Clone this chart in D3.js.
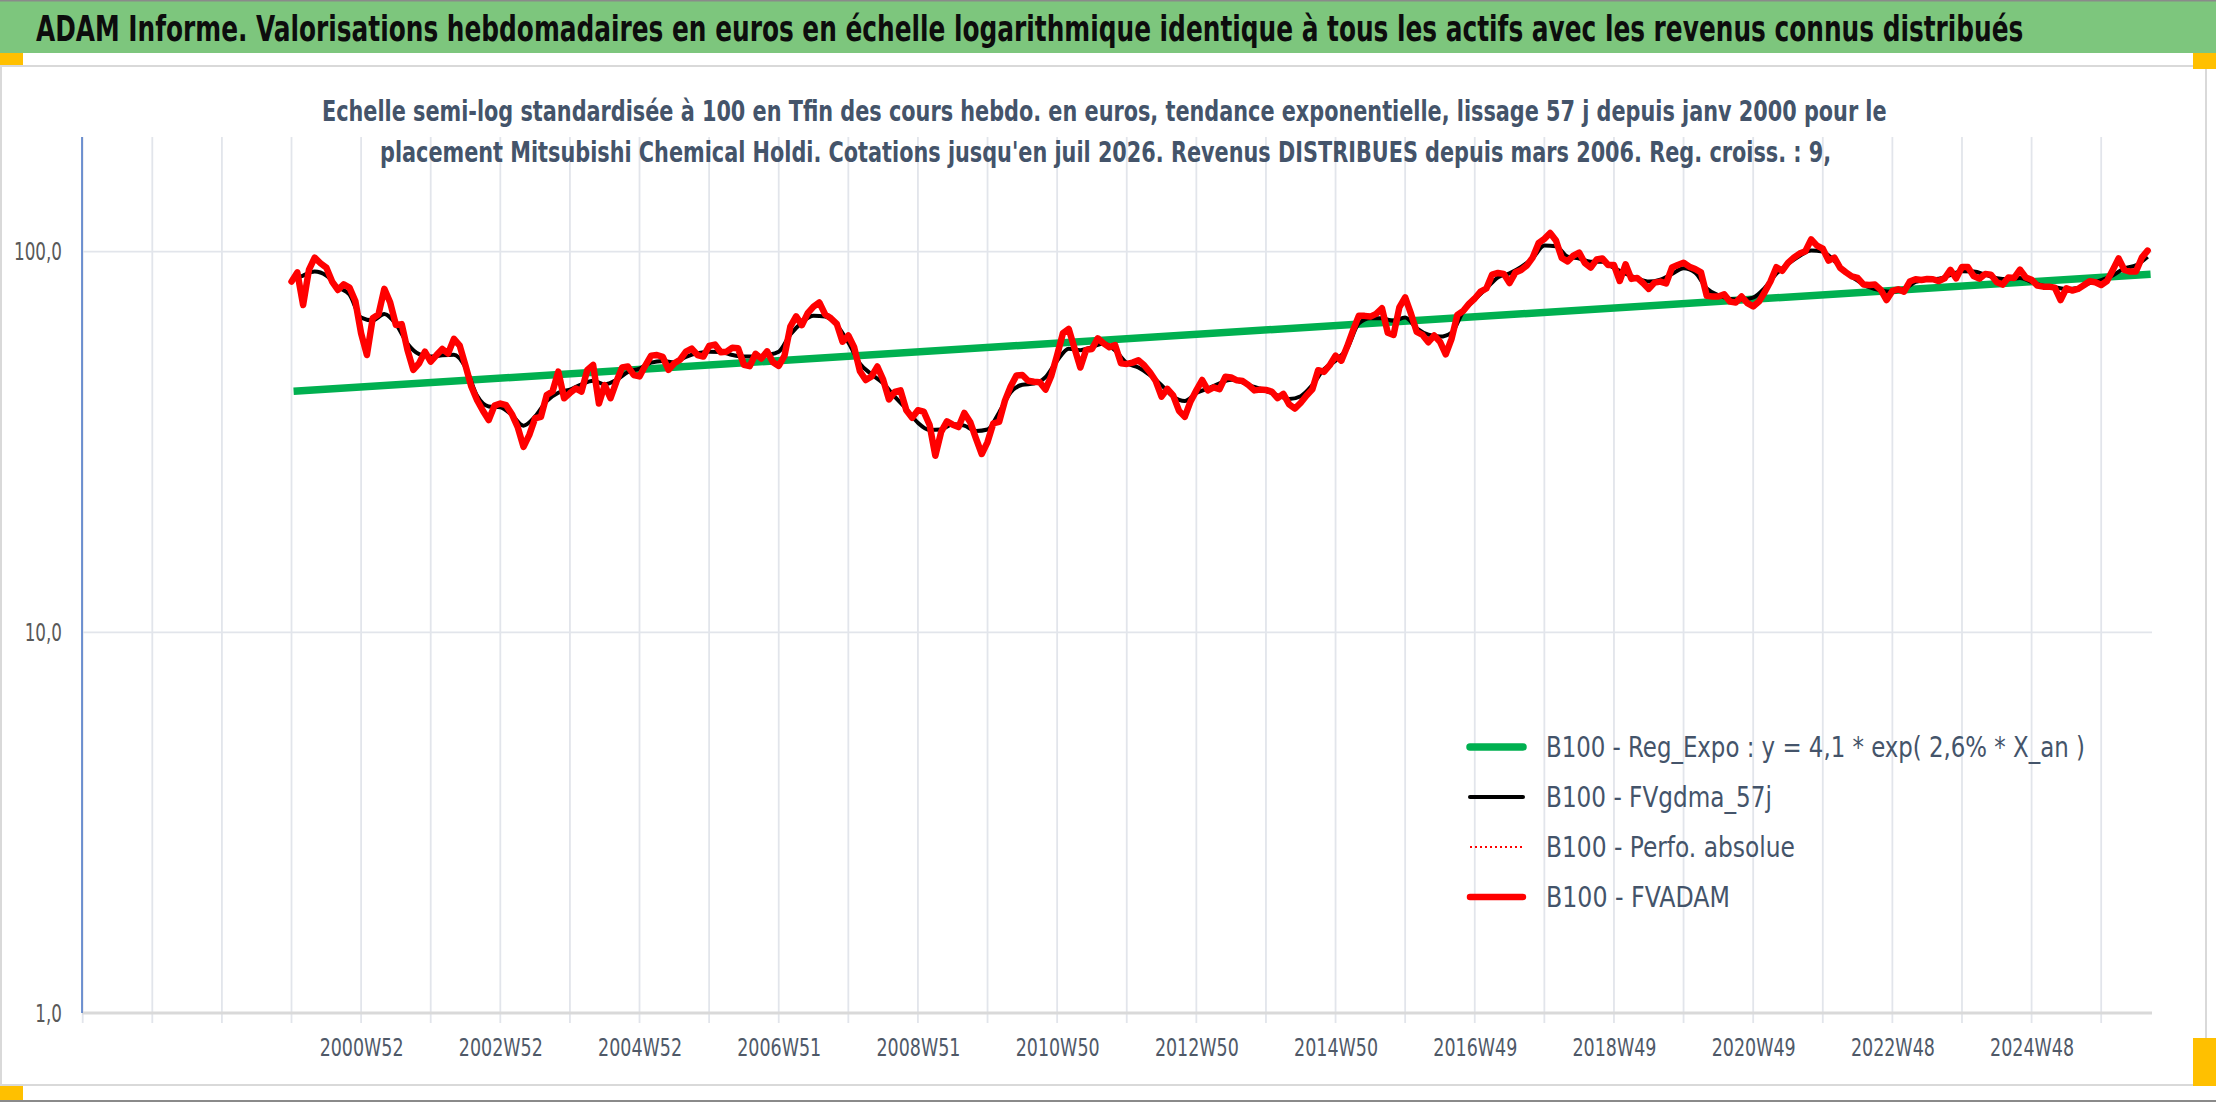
<!DOCTYPE html>
<html>
<head>
<meta charset="utf-8">
<script src="https://cdnjs.cloudflare.com/ajax/libs/d3/7.8.5/d3.min.js"></script>
<style>
  html, body { margin: 0; padding: 0; background: #fff; overflow: hidden; }
  svg { display: block; }
  .narrow { font-family: "Liberation Sans Narrow", "DejaVu Sans Condensed", "Open Sans", sans-serif; }
</style>
</head>
<body>
<div id="chart"></div>
<script>

// ---------- data ----------
const titleText = "ADAM Informe. Valorisations hebdomadaires en euros en échelle logarithmique identique à tous les actifs avec les revenus connus distribués";
const subtitleLines = [
  "Echelle semi-log standardisée à 100 en Tfin des cours hebdo. en euros, tendance exponentielle, lissage 57 j depuis janv 2000 pour le",
  "placement Mitsubishi Chemical Holdi. Cotations jusqu'en juil 2026. Revenus DISTRIBUES depuis mars 2006. Reg. croiss. : 9,"
];
const legendLabels = [
  "B100 - Reg_Expo : y = 4,1 * exp( 2,6% *  X_an )",
  "B100 - FVgdma_57j",
  "B100 - Perfo. absolue",
  "B100 - FVADAM"
];

// FVADAM, one reading per month from janv 2000
const fvadamStart = 2000;
const fvadam = [
  83.4, 88.2, 72.4, 89.5, 96.4, 93.2, 90.8, 83.4, 79.3, 82.0, 80.4, 74.2,
  61.0, 53.5, 66.8, 68.4, 79.8, 73.6, 64.2, 64.5, 55.1, 48.9, 50.9, 54.6,
  51.4, 53.5, 55.5, 54.0, 59.0, 56.6, 50.2, 44.2, 40.7, 38.2, 36.1, 39.4,
  39.9, 39.5, 37.4, 34.6, 30.7, 33.0, 36.5, 36.8, 42.0, 42.9, 48.4, 41.2,
  42.5, 43.7, 42.9, 48.9, 50.4, 39.9, 44.6, 41.2, 45.5, 49.6, 49.9, 47.4,
  47.0, 50.2, 53.3, 53.5, 52.9, 48.9, 50.9, 52.0, 54.6, 55.6, 53.5, 53.0,
  56.5, 57.0, 54.4, 54.6, 55.9, 55.7, 50.4, 50.0, 53.9, 52.4, 54.7, 51.2,
  50.1, 53.3, 63.5, 67.6, 64.1, 68.9, 71.7, 73.5, 68.4, 66.8, 64.6, 58.0,
  60.2, 56.1, 48.5, 46.0, 47.0, 49.9, 46.1, 40.9, 42.8, 43.2, 38.3, 36.6,
  38.3, 38.0, 35.1, 29.1, 33.6, 35.8, 35.1, 34.6, 37.7, 35.7, 32.3, 29.4,
  31.6, 35.4, 35.7, 40.6, 44.3, 47.3, 47.4, 45.8, 45.5, 45.4, 43.4, 47.2,
  53.5, 61.1, 62.6, 55.7, 49.6, 55.2, 55.5, 59.2, 57.4, 56.1, 56.8, 50.9,
  50.7, 51.1, 51.8, 50.3, 48.2, 45.7, 41.6, 43.6, 41.9, 38.2, 36.8, 40.4,
  43.2, 46.0, 43.2, 44.0, 43.5, 46.9, 46.7, 45.9, 45.7, 44.6, 43.2, 43.4,
  43.3, 42.9, 41.2, 42.3, 39.7, 38.7, 40.1, 41.9, 43.5, 48.8, 48.3, 50.3,
  53.3, 51.7, 56.3, 62.0, 67.8, 67.8, 67.5, 68.6, 71.0, 61.2, 60.4, 71.4,
  75.8, 68.7, 61.5, 60.4, 57.8, 60.2, 58.0, 53.7, 59.0, 68.2, 69.8, 72.9,
  75.3, 78.5, 80.0, 87.0, 87.9, 87.4, 82.7, 88.1, 89.5, 92.0, 96.6, 105.2,
  108.0, 111.9, 106.9, 96.2, 94.3, 97.6, 99.4, 93.2, 90.8, 95.3, 95.9, 92.2,
  92.2, 83.7, 92.6, 84.8, 85.3, 82.7, 79.8, 82.9, 83.4, 82.5, 90.8, 92.2,
  93.5, 91.3, 90.0, 88.2, 76.5, 76.2, 76.2, 77.2, 73.9, 73.5, 76.2, 73.2,
  71.8, 73.9, 78.3, 83.6, 91.0, 89.0, 93.4, 96.4, 98.8, 100.2, 107.7, 103.7,
  101.8, 94.7, 96.4, 90.6, 88.2, 86.1, 85.3, 82.0, 81.7, 81.9, 79.3, 74.6,
  78.8, 79.6, 78.5, 83.4, 84.6, 84.2, 84.7, 84.6, 83.7, 85.1, 89.5, 85.1,
  91.1, 91.1, 86.3, 84.9, 87.3, 87.0, 83.1, 81.9, 85.5, 85.3, 89.7, 85.5,
  84.3, 81.4, 80.9, 80.9, 80.4, 74.6, 80.1, 79.0, 79.8, 81.6, 83.6, 83.1,
  81.7, 83.7, 89.5, 96.0, 89.5, 88.6, 88.6, 96.4, 100.6
];

// FVgdma_57j, one reading every two months from janv 2000
const fvgdmaStart = 2000;
const fvgdma = [
  83.9, 86.5, 88.6, 86.5, 80.7, 77.1,
  67.1, 66.0, 68.6, 64.5, 57.3, 53.8,
  53.0, 53.4, 53.6, 49.7, 41.8, 39.2,
  39.0, 37.2, 34.9, 36.9, 40.5, 42.6,
  43.4, 44.8, 45.8, 44.8, 46.0, 48.3,
  49.3, 51.1, 51.6, 51.2, 52.9, 54.1,
  54.6, 54.5, 53.5, 53.0, 53.0, 53.5,
  54.6, 60.6, 65.1, 67.8, 67.5, 64.1,
  57.7, 50.8, 47.6, 45.1, 41.6, 38.6,
  35.5, 34.0, 34.1, 35.2, 34.9, 33.8,
  34.1, 37.8, 42.7, 44.7, 45.0, 46.8,
  51.7, 55.6, 55.1, 56.1, 57.4, 55.0,
  51.0, 49.6, 47.4, 44.6, 41.6, 40.5,
  42.5, 43.7, 45.1, 46.1, 45.3, 44.1,
  43.1, 41.9, 41.0, 41.7, 44.6, 49.1,
  51.7, 55.7, 64.7, 66.8, 66.8, 65.8,
  67.1, 62.9, 60.5, 59.8, 61.3, 69.5,
  74.8, 80.0, 85.6, 87.7, 91.1, 96.2,
  103.7, 103.3, 97.0, 95.9, 94.1, 94.1,
  90.6, 87.5, 85.1, 83.4, 84.4, 87.3,
  90.4, 88.1, 80.0, 76.8, 75.1, 74.8,
  75.7, 80.3, 87.5, 92.8, 97.4, 100.6,
  100.0, 94.5, 88.2, 83.9, 80.6, 79.1,
  78.5, 79.8, 83.2, 84.4, 84.9, 86.8,
  88.8, 88.6, 87.0, 85.1, 84.6, 85.3,
  83.2, 81.4, 80.6, 79.8, 80.3, 82.6,
  84.1, 86.6, 90.4, 92.0, 97.0
];

// exponential regression: its two ends
const regExpoYears = [2000.03, 2026.71];
const regExpoValues = [43.0, 87.2];

// category axis (weekly), one gridline per 52 weeks, a label every 104
const axisYears = [1996.99, 2026.73];
const xTickYears = [2001, 2003, 2005, 2007, 2009, 2011, 2013, 2015, 2017, 2019, 2021, 2023, 2025];
const xTickLabels = ["2000W52", "2002W52", "2004W52", "2006W51", "2008W51", "2010W50", "2012W50",
                     "2014W50", "2016W49", "2018W49", "2020W49", "2022W48", "2024W48"];
const yDomain = [1, 200];
const yTickValues = [1, 10, 100];

// ---------- drawing ----------
const width = 2216, height = 1102;
const plot = { left: 82, right: 2152, top: 137, bottom: 1013 };

const svg = d3.select('#chart')
  .append('svg')
  .attr('width', width)
  .attr('height', height);

// squeeze a text horizontally by k, keeping its anchor point in place
function squeeze(sel, k) {
  sel.each(function () {
    const t = d3.select(this);
    const x0 = +t.attr('x') || 0, y0 = +t.attr('y') || 0;
    t.attr('x', 0).attr('y', 0)
     .attr('transform', `translate(${x0},${y0}) scale(${k},1)`);
  });
}
// squeeze so that the text spans w pixels (Calibri is narrower than what we have)
function fitWidth(sel, w) {
  sel.each(function () {
    const k = Math.min(1, w / this.getComputedTextLength());
    d3.select(this).call(squeeze, k);
  });
}

svg.append('rect').attr('width', width).attr('height', height).attr('fill', '#fff');

// header band
svg.append('rect').attr('x', 0).attr('y', 1).attr('width', width).attr('height', 52).attr('fill', '#7DC67D');
svg.append('line').attr('x1', 0).attr('x2', width).attr('y1', 0.5).attr('y2', 0.5)
  .attr('stroke', '#8a8a8a').attr('stroke-width', 2);
svg.append('text')
  .attr('class', 'narrow')
  .attr('x', 36).attr('y', 41)
  .attr('font-size', 36).attr('font-weight', 'bold').attr('fill', '#0d0d0d')
  .text(titleText)
  .call(fitWidth, 1988);

// chart frame
svg.append('rect').attr('x', 1).attr('y', 66).attr('width', 2205).attr('height', 1019)
  .attr('fill', 'none').attr('stroke', '#D9D9D9').attr('stroke-width', 2);
svg.append('line').attr('x1', 0).attr('x2', width).attr('y1', 1101).attr('y2', 1101)
  .attr('stroke', '#8a8a8a').attr('stroke-width', 2);

// selection handles
const handles = [[0, 53, 23, 12], [2193, 53, 23, 16], [2193, 1038, 23, 48], [0, 1086, 23, 14]];
svg.selectAll('rect.handle').data(handles).enter().append('rect')
  .attr('class', 'handle')
  .attr('x', d => d[0]).attr('y', d => d[1]).attr('width', d => d[2]).attr('height', d => d[3])
  .attr('fill', '#FFC000');

// scales
let x = d3.scaleLinear().domain(axisYears).range([plot.left, plot.right]);
let y = d3.scaleLog().domain(yDomain).range([plot.bottom, plot.top]);

// vertical gridlines (with tick marks below the axis)
const gridYears = d3.range(Math.ceil(axisYears[0]), Math.floor(axisYears[1]) + 1);
svg.append('g').selectAll('line').data(gridYears).enter().append('line')
  .attr('x1', d => x(d)).attr('x2', d => x(d))
  .attr('y1', plot.top).attr('y2', plot.bottom + 10)
  .attr('stroke', '#E2E5EB').attr('stroke-width', 1.8);

// horizontal gridlines
svg.append('g').selectAll('line').data(yTickValues.filter(v => v > yDomain[0])).enter().append('line')
  .attr('x1', plot.left).attr('x2', plot.right)
  .attr('y1', d => y(d)).attr('y2', d => y(d))
  .attr('stroke', '#E2E5EB').attr('stroke-width', 1.8);

// axes
svg.append('line').attr('x1', plot.left).attr('x2', plot.right)
  .attr('y1', plot.bottom).attr('y2', plot.bottom)
  .attr('stroke', '#D9D9D9').attr('stroke-width', 3);
svg.append('line').attr('x1', plot.left).attr('x2', plot.left)
  .attr('y1', plot.top).attr('y2', plot.bottom)
  .attr('stroke', '#4472C4').attr('stroke-width', 1.5);

const frFormat = d3.formatLocale({ decimal: ',', thousands: ' ', grouping: [3], currency: ['', ' €'] }).format('.1f');

const yAxis = d3.axisLeft(y).tickValues(yTickValues).tickFormat(frFormat).tickSize(0).tickPadding(20);
const yAxisG = svg.append('g').attr('transform', `translate(${plot.left},0)`).call(yAxis);
yAxisG.select('.domain').remove();
const yLabels = yAxisG.selectAll('text')
  .attr('class', 'narrow')
  .attr('font-size', 25).attr('fill', '#595959');
// same squeeze for every label: the widest one ("100,0") spans 48 px
const yK = Math.min(1, 48 / d3.max(yLabels.nodes(), n => n.getComputedTextLength()));
yLabels.call(squeeze, yK);

const xAxis = d3.axisBottom(x).tickValues(xTickYears)
  .tickFormat((d, i) => xTickLabels[i]).tickSize(0);
const xAxisG = svg.append('g').attr('transform', `translate(0,${plot.bottom})`).call(xAxis);
xAxisG.select('.domain').remove();
xAxisG.selectAll('text')
  .attr('class', 'narrow')
  .attr('y', 43).attr('dy', null)
  .attr('font-size', 25).attr('fill', '#4F5968')
  .call(fitWidth, 84);

// series
const regLine = d3.line().x(d => x(d[0])).y(d => y(d[1]));
svg.append('path')
  .datum(regExpoYears.map((t, i) => [t, regExpoValues[i]]))
  .attr('d', regLine)
  .attr('fill', 'none').attr('stroke', '#00B050').attr('stroke-width', 7.5);

const gdmaLine = d3.line().x((d, i) => x(fvgdmaStart + i * 2 / 12)).y(d => y(d)).curve(d3.curveMonotoneX);
svg.append('path')
  .datum(fvgdma)
  .attr('d', gdmaLine)
  .attr('fill', 'none').attr('stroke', '#000').attr('stroke-width', 4);

const adamLine = d3.line().x((d, i) => x(fvadamStart + i / 12)).y(d => y(d));
svg.append('path')
  .datum(fvadam)
  .attr('d', adamLine)
  .attr('fill', 'none').attr('stroke', '#FF0000').attr('stroke-width', 6.5)
  .attr('stroke-linejoin', 'round').attr('stroke-linecap', 'round');

// legend
const legendStyles = [
  { color: '#00B050', width: 7.5, dash: null, len: 539 },
  { color: '#000000', width: 4, dash: null, len: 226 },
  { color: '#FF0000', width: 2.2, dash: '2,3', len: 249 },
  { color: '#FF0000', width: 6.5, dash: null, len: 184 }
];
const rows = svg.append('g').selectAll('g').data(legendLabels).enter().append('g')
  .attr('transform', (d, i) => `translate(1470,${747 + i * 50})`);
rows.append('line')
  .attr('x1', 0).attr('x2', 53).attr('y1', 0).attr('y2', 0)
  .attr('stroke', (d, i) => legendStyles[i].color)
  .attr('stroke-width', (d, i) => legendStyles[i].width)
  .attr('stroke-dasharray', (d, i) => legendStyles[i].dash)
  .attr('stroke-linecap', (d, i) => legendStyles[i].dash ? 'butt' : 'round');
rows.append('text')
  .attr('class', 'narrow')
  .attr('x', 76).attr('y', 10)
  .attr('font-size', 29).attr('fill', '#44546A')
  .text(d => d)
  .each(function (d, i) { d3.select(this).call(fitWidth, legendStyles[i].len); });

// subtitle (drawn last, it sits over the top of the plot)
const subStarts = [322, 380];
const subLengths = [1565, 1452];
svg.selectAll('text.subtitle').data(subtitleLines).enter().append('text')
  .attr('class', 'subtitle narrow')
  .attr('x', (d, i) => subStarts[i]).attr('y', (d, i) => 121 + i * 41)
  .attr('font-size', 29).attr('font-weight', 'bold').attr('fill', '#44546A')
  .text(d => d)
  .each(function (d, i) { d3.select(this).call(fitWidth, subLengths[i]); });

</script>
</body>
</html>
